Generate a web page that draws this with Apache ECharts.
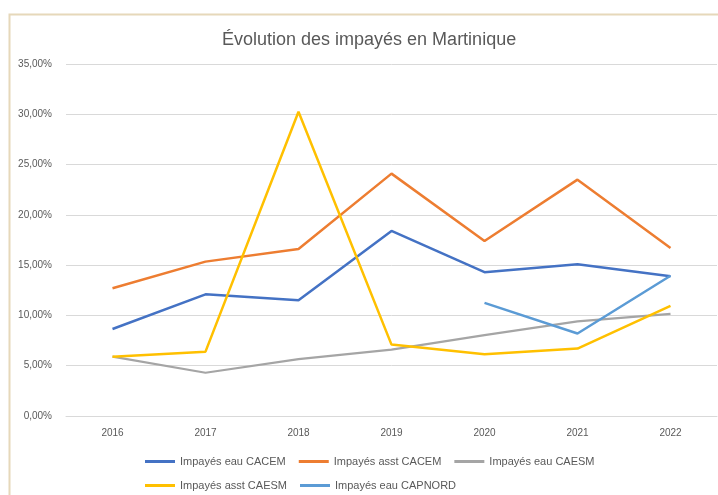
<!DOCTYPE html>
<html>
<head>
<meta charset="utf-8">
<script src="https://cdn.jsdelivr.net/npm/echarts@6/dist/echarts.min.js"></script>
<style>
  html, body { margin: 0; padding: 0; background: #ffffff; }
  #chart { width: 718px; height: 495px; }
</style>
</head>
<body>
<div id="chart"></div>
<script>
// Évolution des impayés en Martinique (taux en %)
var annees = ['2016', '2017', '2018', '2019', '2020', '2021', '2022'];

var eauCACEM   = [8.65, 12.1, 11.5, 18.4, 14.3, 15.1, 13.9];
var asstCACEM  = [12.7, 15.35, 16.6, 24.1, 17.4, 23.5, 16.7];
var eauCAESM   = [5.9, 4.3, 5.65, 6.6, 8.05, 9.4, 10.15];
var asstCAESM  = [5.9, 6.4, 30.25, 7.1, 6.15, 6.7, 10.95];
var eauCAPNORD = [null, null, null, null, 11.25, 8.2, 13.95];

var nomsSeries = ['Impayés eau CACEM', 'Impayés asst CACEM', 'Impayés eau CAESM',
                  'Impayés asst CAESM', 'Impayés eau CAPNORD'];
var couleurs = ['#4472C4', '#ED7D31', '#A5A5A5', '#FFC000', '#5B9BD5'];
var donnees = [eauCACEM, asstCACEM, eauCAESM, asstCAESM, eauCAPNORD];

var police = '"Liberation Sans", Arial, sans-serif';

function initGraphe() {
	var myChart = echarts.init(document.getElementById('chart'));

	var series = [];
	for (var i = 0; i < donnees.length; i++) {
		series.push({
			name: nomsSeries[i],
			type: 'line',
			data: donnees[i],
			symbol: 'none',
			color: couleurs[i],
			lineStyle: { width: i == 2 ? 2.2 : 2.5, color: couleurs[i] },
			animation: false
		});
	}

	var option = {
		backgroundColor: '#ffffff',
		textStyle: { fontFamily: police },
		graphic: [{
			type: 'rect',
			left: 7, top: 12,
			shape: { width: 760, height: 540 },
			style: { fill: 'none', stroke: '#E6D8BA', lineWidth: 2 },
			silent: true
		}],
		title: {
			text: 'Évolution des impayés en Martinique',
			left: 217,
			top: 26,
			textStyle: { fontFamily: police, fontSize: 18, fontWeight: 'normal', color: '#595959' }
		},
		legend: {
			data: nomsSeries,
			left: 145,
			top: 456,
			width: 462,
			padding: 0,
			icon: 'rect',
			itemWidth: 30,
			itemHeight: 3,
			itemGap: 13,
			textStyle: { fontFamily: police, fontSize: 11, color: '#595959', width: 105 }
		},
		grid: { left: 66, right: 1, top: 64, bottom: 79, containLabel: false },
		xAxis: {
			type: 'category',
			data: annees,
			boundaryGap: true,
			axisLine: { show: true, lineStyle: { color: '#D9D9D9', width: 1 } },
			axisTick: { show: false },
			axisLabel: { color: '#595959', fontSize: 10, margin: 12, fontFamily: police }
		},
		yAxis: {
			type: 'value',
			min: 0,
			max: 35,
			interval: 5,
			axisLine: { show: false },
			axisTick: { show: false },
			splitLine: { lineStyle: { color: '#D9D9D9', width: 1 } },
			axisLabel: {
				color: '#595959', fontSize: 10, margin: 14, fontFamily: police,
				formatter: function (v) { return v.toFixed(2).replace('.', ',') + '%'; }
			}
		},
		series: series
	};
	myChart.setOption(option);
}

initGraphe();
</script>
</body>
</html>
